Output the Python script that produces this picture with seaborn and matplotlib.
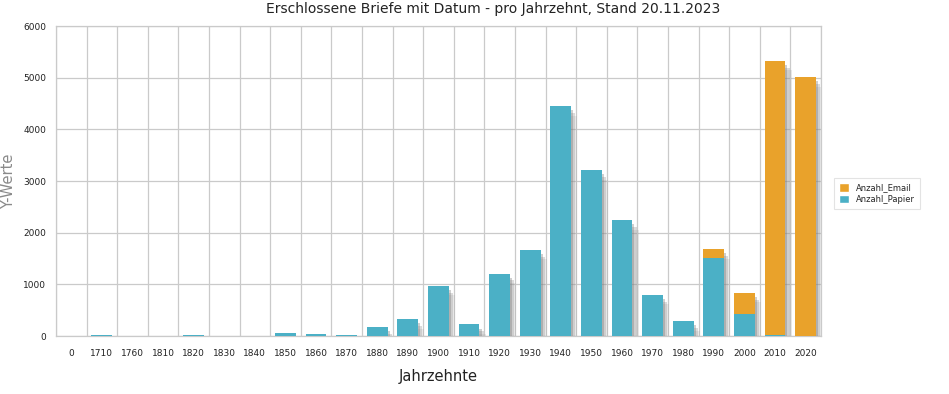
import matplotlib
matplotlib.use("Agg")
import matplotlib.pyplot as plt
import matplotlib.patheffects as pe
from matplotlib.patches import Patch
import numpy as np
import pandas as pd
import seaborn as sns

# ----------------------------------------------------
# Data
# ----------------------------------------------------
decades = ["0", "1710", "1760", "1810", "1820", "1830", "1840", "1850", "1860",
           "1870", "1880", "1890", "1900", "1910", "1920", "1930", "1940", "1950",
           "1960", "1970", "1980", "1990", "2000", "2010", "2020"]
papier = [5, 20, 2, 2, 15, 0, 0, 60, 35, 25, 170, 330, 975, 225, 1210, 1670,
          4450, 3210, 2250, 800, 290, 1515, 425, 15, 0]
email = [0, 0, 0, 0, 0, 0, 0, 0, 0, 0, 0, 0, 0, 0, 0, 0,
         0, 0, 0, 0, 0, 165, 415, 5315, 5010]

df = pd.DataFrame({"decade": decades, "papier": papier, "email": email})
df["total"] = df["papier"] + df["email"]

teal = "#4bb0c6"
orange = "#e9a22b"
grid_col = "#cacaca"

# ----------------------------------------------------
# Plot
# ----------------------------------------------------
sns.set_style("white")
plt.rcParams["font.family"] = ["DejaVu Sans"]

fig = plt.figure(figsize=(9.49, 3.94), dpi=100)
ax = fig.add_axes([0.059, 0.147, 0.806, 0.787])

# stacked: total (email on top) first, paper drawn over it
sns.barplot(data=df, x="decade", y="total", color=orange, width=0.68,
            saturation=1, linewidth=0, edgecolor="none", ax=ax, zorder=3)
for p in ax.patches:
    p.set_path_effects([
        pe.SimplePatchShadow(offset=(4.5, -7), shadow_rgbFace="#9a9a9a", alpha=0.18),
        pe.SimplePatchShadow(offset=(3, -5), shadow_rgbFace="#8a8a8a", alpha=0.3),
        pe.SimplePatchShadow(offset=(1.5, -3), shadow_rgbFace="#777777", alpha=0.35),
        pe.Normal()])
sns.barplot(data=df, x="decade", y="papier", color=teal, width=0.68,
            saturation=1, linewidth=0, edgecolor="none", ax=ax, zorder=4)

ax.set_xlim(-0.5, len(decades) - 0.5)
ax.set_ylim(0, 6000)
ax.set_yticks(np.arange(0, 6001, 1000))

# vertical grid on category boundaries
ax.set_xticks(np.arange(-0.5, len(decades)), minor=True)
ax.grid(True, which="minor", axis="x", color=grid_col, lw=0.9, zorder=0)
ax.grid(True, which="major", axis="y", color=grid_col, lw=0.9, zorder=0)
ax.grid(False, which="major", axis="x")
ax.set_axisbelow(True)

ax.tick_params(axis="x", which="major", length=0, labelsize=6.5, pad=9, colors="#222222")
ax.tick_params(axis="x", which="minor", length=5, color=grid_col)
ax.tick_params(axis="y", which="major", length=5, labelsize=6.5, pad=2, colors="#222222")
ax.tick_params(axis="y", color=grid_col)
for s in ax.spines.values():
    s.set_color(grid_col)
    s.set_linewidth(0.9)

ax.set_xlabel("Jahrzehnte", fontsize=10.5, labelpad=8, color="#222222")
ax.set_ylabel("Y-Werte", fontsize=10.5, color="#8a8a8a")
ax.yaxis.set_label_coords(-0.052, 0.5)
fig.suptitle("Erschlossene Briefe mit Datum - pro Jahrzehnt, Stand 20.11.2023",
             fontsize=10, x=0.52, y=0.995, color="#222222")

handles = [Patch(facecolor=orange, label="Anzahl_Email"),
           Patch(facecolor=teal, label="Anzahl_Papier")]
leg = ax.legend(handles=handles, loc="center left", bbox_to_anchor=(1.012, 0.46),
                fontsize=6, frameon=True, fancybox=False, borderpad=0.6,
                handlelength=1.2, handleheight=1.2, handletextpad=0.8,
                labelspacing=0.3)
leg.get_frame().set_edgecolor("#dddddd")
leg.get_frame().set_linewidth(0.8)

fig.savefig("out.png", dpi=100)
